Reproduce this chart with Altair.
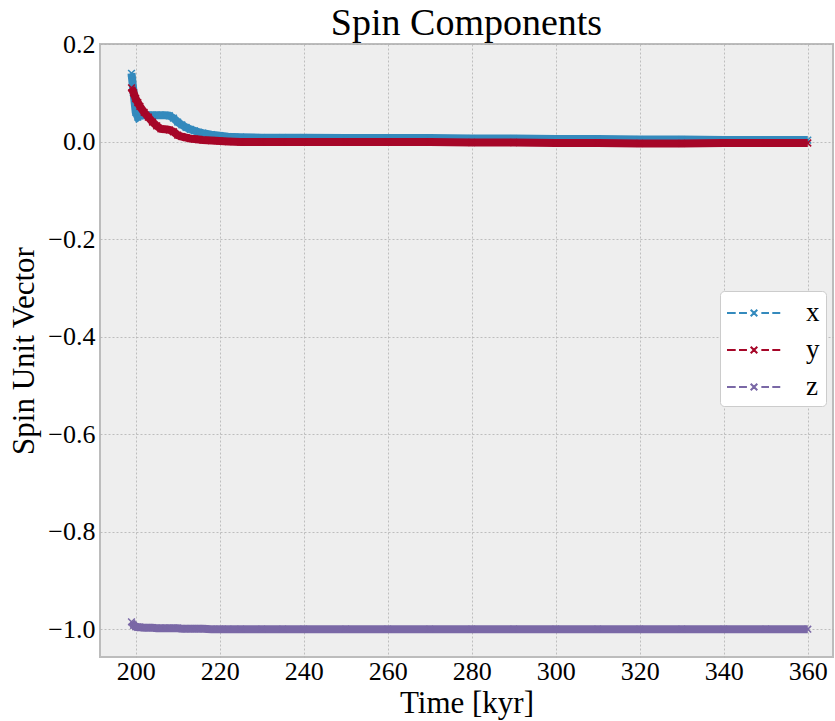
import altair as alt
import pandas as pd

time = [199, 199.5, 200, 200.5, 201, 202, 203, 204, 205, 206, 207, 208, 209, 210,
        211, 212, 213, 214, 215, 216, 218, 220, 222, 225, 230, 235, 240, 250, 260,
        270, 280, 290, 300, 310, 320, 330, 340, 350, 360]

spin_x = [0.14, 0.10, 0.06, 0.050, 0.053, 0.054, 0.054, 0.054, 0.054, 0.054, 0.054,
          0.053, 0.048, 0.040, 0.034, 0.029, 0.025, 0.022, 0.019, 0.017, 0.014, 0.012,
          0.010, 0.009, 0.008, 0.008, 0.008, 0.007, 0.007, 0.007, 0.006, 0.006, 0.005,
          0.005, 0.004, 0.004, 0.003, 0.003, 0.003]

spin_y = [0.11, 0.10, 0.088, 0.080, 0.072, 0.060, 0.050, 0.040, 0.032, 0.026, 0.025,
          0.024, 0.020, 0.013, 0.010, 0.008, 0.006, 0.005, 0.004, 0.003, 0.002, 0.001,
          0.000, -0.001, -0.001, -0.001, -0.001, -0.001, -0.001, -0.001, -0.002, -0.002,
          -0.003, -0.003, -0.004, -0.004, -0.003, -0.003, -0.003]

spin_z = [-0.985, -0.992, -0.995, -0.996, -0.996, -0.997, -0.997, -0.997, -0.998, -0.998,
          -0.998, -0.998, -0.998, -0.998, -0.999, -0.999, -0.999, -0.999, -0.999, -0.999,
          -1.0, -1.0, -1.0, -1.0, -1.0, -1.0, -1.0, -1.0, -1.0, -1.0, -1.0, -1.0, -1.0,
          -1.0, -1.0, -1.0, -1.0, -1.0, -1.0]

components = ["x", "y", "z"]
colors = ["#348ABD", "#A60628", "#7A68A6"]
x_ticks = [200, 220, 240, 260, 280, 300, 320, 340, 360]
y_ticks = [-1.0, -0.8, -0.6, -0.4, -0.2, 0.0, 0.2]

rows = []
for name, vals in zip(components, [spin_x, spin_y, spin_z]):
    for t, v in zip(time, vals):
        rows.append({"t": t, "v": v, "c": name})
df = pd.DataFrame(rows)

FONT = "Liberation Serif"
legend_path = ("M-1,0H-0.42M-0.2,0H0.33M1.29,0H1.8M2.02,0H2.55"
               "M0.58,-0.22L1.02,0.22M0.58,0.22L1.02,-0.22")
x_path = "M-1,-1L1,1M-1,1L1,-1"

xenc = alt.X("t:Q", scale=alt.Scale(domain=[191.5, 366], nice=False, zero=False),
             axis=alt.Axis(title="Time [kyr]", values=x_ticks, format="d",
                           titleBaseline="alphabetic", titleY=55, labelPadding=1))
yenc = alt.Y("v:Q", scale=alt.Scale(domain=[-1.057, 0.2], nice=False, zero=False),
             axis=alt.Axis(title="Spin Unit Vector", values=y_ticks,
                           titleBaseline="alphabetic", titleX=-67, labelPadding=5,
                           labelExpr="replace(format(datum.value, '.1f'), '-', '\u2212')"))
color_scale = alt.Scale(domain=components, range=colors)
legend = alt.Legend(title=None, orient="none", legendX=620, legendY=247,
                    symbolType=legend_path, symbolSize=900,
                    symbolStrokeWidth=2, labelFont=FONT, labelFontSize=27,
                    labelOffset=48, rowPadding=8, padding=6,
                    fillColor="white", strokeColor="#cccccc", cornerRadius=4)

layers = []
for i, name in enumerate(components):
    sub = alt.Chart(df).transform_filter(alt.datum.c == name)
    line = sub.mark_line(strokeWidth=8, strokeCap="butt").encode(
        x=xenc, y=yenc,
        color=alt.Color("c:N", scale=color_scale, legend=legend if i == 0 else None))
    pts = sub.mark_point(shape=x_path, size=45, filled=False, strokeWidth=1.5,
                         opacity=1).encode(
        x="t:Q", y="v:Q", color=alt.Color("c:N", scale=color_scale, legend=None))
    layers += [line, pts]

chart = alt.layer(*layers).properties(
    width=733, height=613,
    title=alt.TitleParams("Spin Components", font=FONT, fontSize=38, fontWeight="normal",
                          color="black", offset=-12),
    autosize=alt.AutoSizeParams(type="none"),
    padding={"left": 100, "top": 44, "right": 2, "bottom": 64},
).configure_view(
    fill="#eeeeee", stroke="#bcbcbc", strokeWidth=2
).configure_axis(
    grid=True, gridColor="#b0b0b0", gridDash=[2, 2], gridWidth=0.8,
    domain=False, ticks=False, labelFont=FONT, labelFontSize=26, labelColor="black",
    titleFont=FONT, titleFontSize=31, titleFontWeight="normal", titleColor="black"
)

chart.save("out.html", embed_options={"renderer": "svg", "actions": False})
